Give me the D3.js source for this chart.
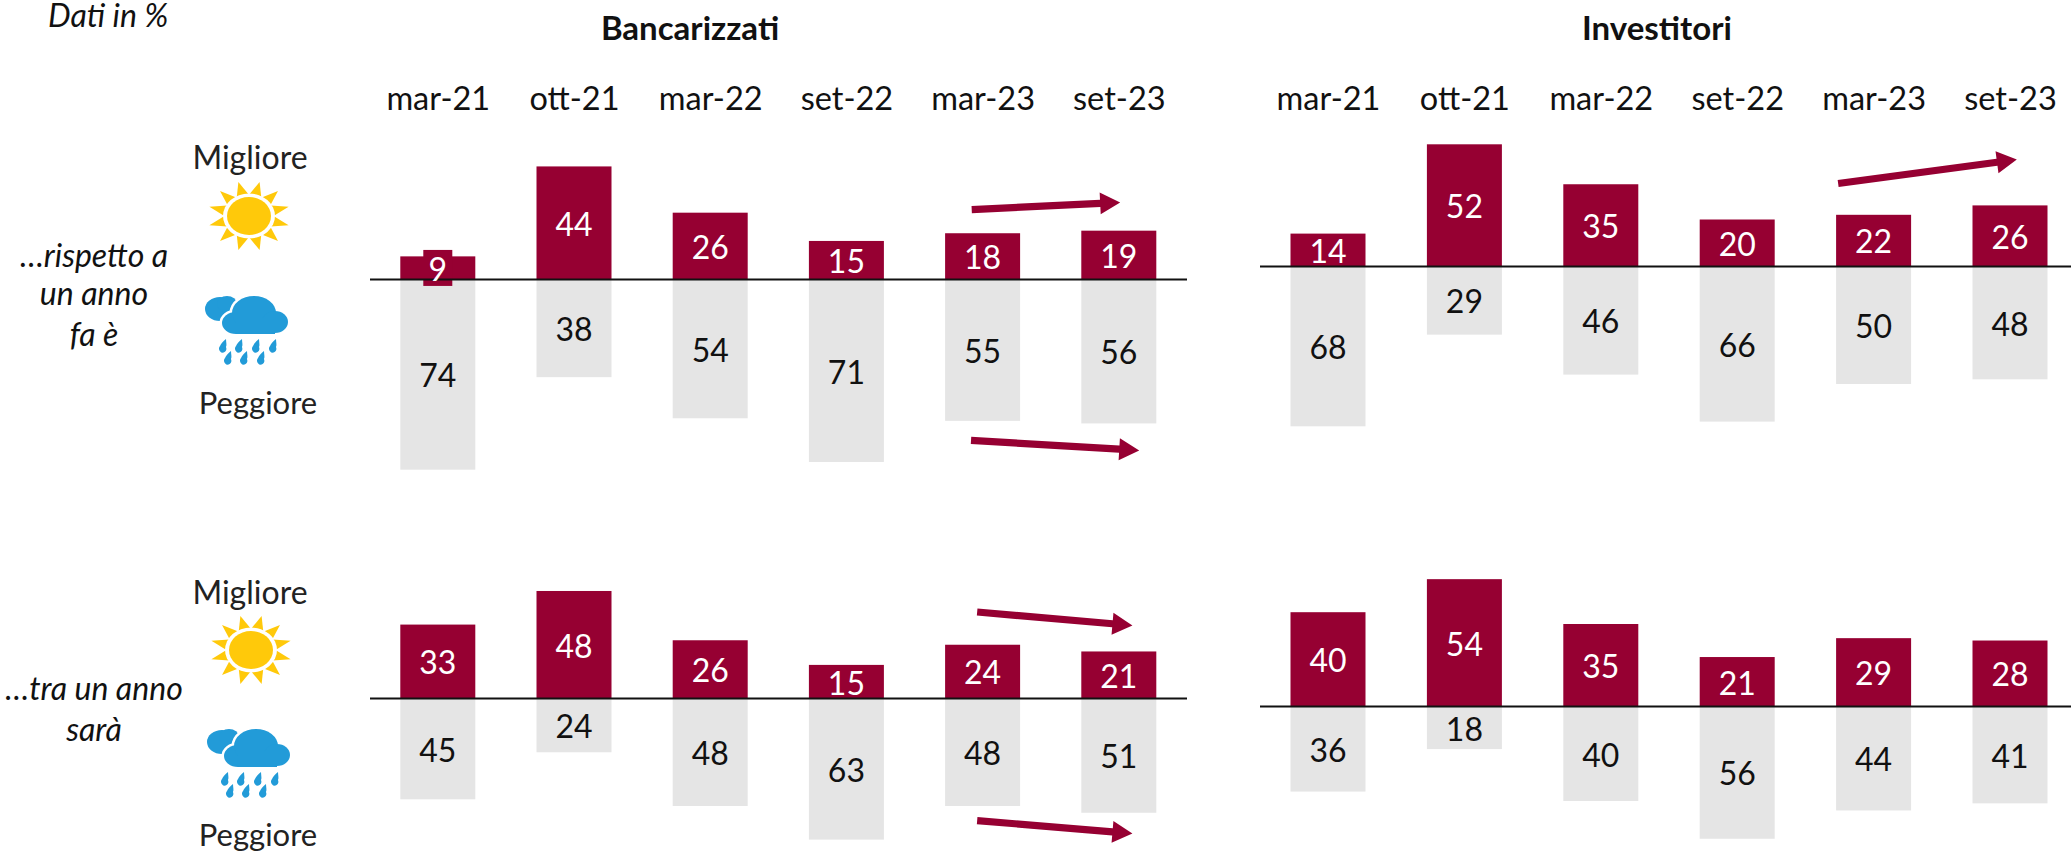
<!DOCTYPE html>
<html><head><meta charset="utf-8">
<script src="https://cdn.jsdelivr.net/npm/d3@7/dist/d3.min.js"></script>
<style>html,body{margin:0;padding:0;background:#fff}svg{display:block}text{font-family:Lato,"Open Sans",sans-serif}</style>
</head><body><svg id="c" width="2071" height="852"></svg>
<script>
const periods=["mar-21","ott-21","mar-22","set-22","mar-23","set-23"];
const bancaPastBetter=[9,44,26,15,18,19];
const bancaPastWorse=[74,38,54,71,55,56];
const bancaNextBetter=[33,48,26,15,24,21];
const bancaNextWorse=[45,24,48,63,48,51];
const investPastBetter=[14,52,35,20,22,26];
const investPastWorse=[68,29,46,66,50,48];
const investNextBetter=[40,54,35,21,29,28];
const investNextWorse=[36,18,40,56,44,41];
const titles=[["Bancarizzati",690],["Investitori",1657]];
const rowLabels=[[["…rispetto a",255],["un anno",293],["fa è",334]],[["…tra un anno",688],["sarà",729]]];

const MAROON="#960032",GREY="#e5e5e5";
const svg=d3.select("#c");

const panels=[
 {better:bancaPastBetter,worse:bancaPastWorse,x0:437.8,step:136.2,base:279.5,k:2.57,line:[370,1187],
  arrows:[[3.92,27.2,5.01,30],[3.915,-62.6,5.15,-66.5]],boxed:true},
 {better:investPastBetter,worse:investPastWorse,x0:1328,step:136.4,base:266.5,k:2.35,line:[1260,2071],
  arrows:[[3.74,35.3,5.05,45.5]]},
 {better:bancaNextBetter,worse:bancaNextWorse,x0:437.8,step:136.2,base:698.5,k:2.24,line:[370,1187],
  arrows:[[3.96,38.6,5.1,32.6],[3.96,-54.5,5.1,-60.3]]},
 {better:investNextBetter,worse:investNextWorse,x0:1328,step:136.4,base:706.6,k:2.36,line:[1260,2071],arrows:[]}
];

panels.forEach(p=>{
  const W=75;
  const x=d3.scaleLinear().domain([0,5]).range([p.x0,p.x0+5*p.step]);
  const y=d3.scaleLinear().domain([0,100]).range([p.base,p.base-100*p.k]);
  const g=svg.append("g");
  g.selectAll(".w").data(p.worse).join("rect").attr("fill",GREY)
    .attr("x",(d,i)=>x(i)-W/2).attr("width",W).attr("y",y(0)).attr("height",d=>y(-d)-y(0));
  g.selectAll(".b").data(p.better).join("rect").attr("fill",MAROON)
    .attr("x",(d,i)=>x(i)-W/2).attr("width",W).attr("y",d=>y(d)).attr("height",d=>y(0)-y(d));
  if(p.boxed) g.append("rect").attr("fill",MAROON).attr("x",x(0)-14.5).attr("width",29).attr("y",y(p.better[0]/2)-18).attr("height",36);
  g.append("line").attr("x1",p.line[0]).attr("x2",p.line[1]).attr("y1",y(0)).attr("y2",y(0)).attr("stroke","#111").attr("stroke-width",2);
  g.selectAll(".bl").data(p.better).join("text").attr("fill","#fff").attr("font-size",32).attr("text-anchor","middle")
    .attr("x",(d,i)=>x(i)).attr("y",d=>y(d/2)).attr("dy","0.4em").text(d=>d);
  g.selectAll(".wl").data(p.worse).join("text").attr("fill","#111").attr("font-size",32).attr("text-anchor","middle")
    .attr("x",(d,i)=>x(i)).attr("y",d=>y(-d/2)).attr("dy","0.4em").text(d=>d);
  p.arrows.forEach(a=>{
    const X0=x(a[0]),Y0=y(a[1]),X1=x(a[2]),Y1=y(a[3]);
    const ang=Math.atan2(Y1-Y0,X1-X0),L=Math.hypot(X1-X0,Y1-Y0),h=20,t=3.6,w=11;
    g.append("path").attr("fill",MAROON).attr("transform",`translate(${X0},${Y0}) rotate(${ang*180/Math.PI})`)
     .attr("d",`M0,${-t}L${L-h},${-t}L${L-h},${-w}L${L},0L${L-h},${w}L${L-h},${t}L0,${t}Z`);
  });
});

// period axes
[[437.8,136.2],[1328,136.4]].forEach(([x0,s])=>{
  const sc=d3.scalePoint().domain(periods).range([x0,x0+5*s]);
  const ax=svg.append("g").attr("transform","translate(0,110)").call(d3.axisTop(sc).tickSize(0).tickPadding(0));
  ax.select(".domain").remove();
  ax.selectAll("text").attr("font-size",32.5).attr("fill","#111").attr("font-family","Lato");
});

titles.forEach(([t,x])=>svg.append("text").attr("x",x).attr("y",40).attr("text-anchor","middle").attr("font-size",33).attr("font-weight",700).attr("fill","#111").text(t));
svg.append("text").attr("x",48).attr("y",27).attr("font-size",32).attr("font-style","italic").attr("fill","#111").text("Dati in %");
rowLabels.forEach(r=>r.forEach(([t,yy])=>svg.append("text").attr("x",94).attr("y",yy).attr("dy","0.36em").attr("text-anchor","middle").attr("font-size",32).attr("font-style","italic").attr("fill","#111").text(t)));

function word(t,x,y,fs){svg.append("text").attr("x",x).attr("y",y).attr("dy","0.36em").attr("text-anchor","middle").attr("font-size",fs).attr("fill","#222").text(t);}
function sun(cx,cy){
  const g=svg.append("g").attr("transform",`translate(${cx},${cy})`);
  const rays=d3.range(12).map(i=>i*30+15);
  g.selectAll("path").data(rays).join("path").attr("fill","#FFC90A").attr("d",a=>{
    const r=a*Math.PI/180,d=0.25;
    const P=(ang,R)=>[R*Math.cos(ang),R*0.86*Math.sin(ang)];
    return d3.line()([P(r-d,25),P(r,41),P(r+d,25)])+"Z";
  });
  g.append("ellipse").attr("rx",26).attr("ry",22.5).attr("fill","#fff");
  g.append("ellipse").attr("rx",22).attr("ry",19).attr("fill","#FFC90A");
}
function cloud(cx,cy){
  const g=svg.append("g").attr("transform",`translate(${cx},${cy})`).attr("fill","#229BD8");
  g.append("ellipse").attr("cx",-28).attr("cy",-6).attr("rx",15).attr("ry",12);
  g.append("ellipse").attr("cx",-21).attr("cy",-11).attr("rx",10).attr("ry",8);
  const main=[[-12,8,14,11],[6,-2,22,17],[27,7,13,11]];
  g.selectAll(".h").data(main).join("ellipse").attr("cx",d=>d[0]).attr("cy",d=>d[1]).attr("rx",d=>d[2]).attr("ry",d=>d[3])
    .attr("fill","#fff").attr("stroke","#fff").attr("stroke-width",5);
  g.selectAll(".m").data(main).join("ellipse").attr("cx",d=>d[0]).attr("cy",d=>d[1]).attr("rx",d=>d[2]).attr("ry",d=>d[3]);
  g.append("rect").attr("x",-12).attr("y",4).attr("width",39).attr("height",15);
  const drops=[[-25,30],[-9,30],[8,30],[25,30],[-20,42],[-4,42],[13,42]];
  g.selectAll(".d").data(drops).join("path").attr("transform",d=>`translate(${d[0]},${d[1]})`)
   .attr("d","M3,-6C3,-3 4,0 3,2A3.6,4 0 1 1 -3,1C-2,-1 0,-4 3,-6Z");
}
word("Migliore",250,157,32);word("Peggiore",258,403,31);word("Migliore",250,592,32);word("Peggiore",258,835,31);
sun(249,216);sun(251,650);cloud(248,315);cloud(250,748);
</script></body></html>
